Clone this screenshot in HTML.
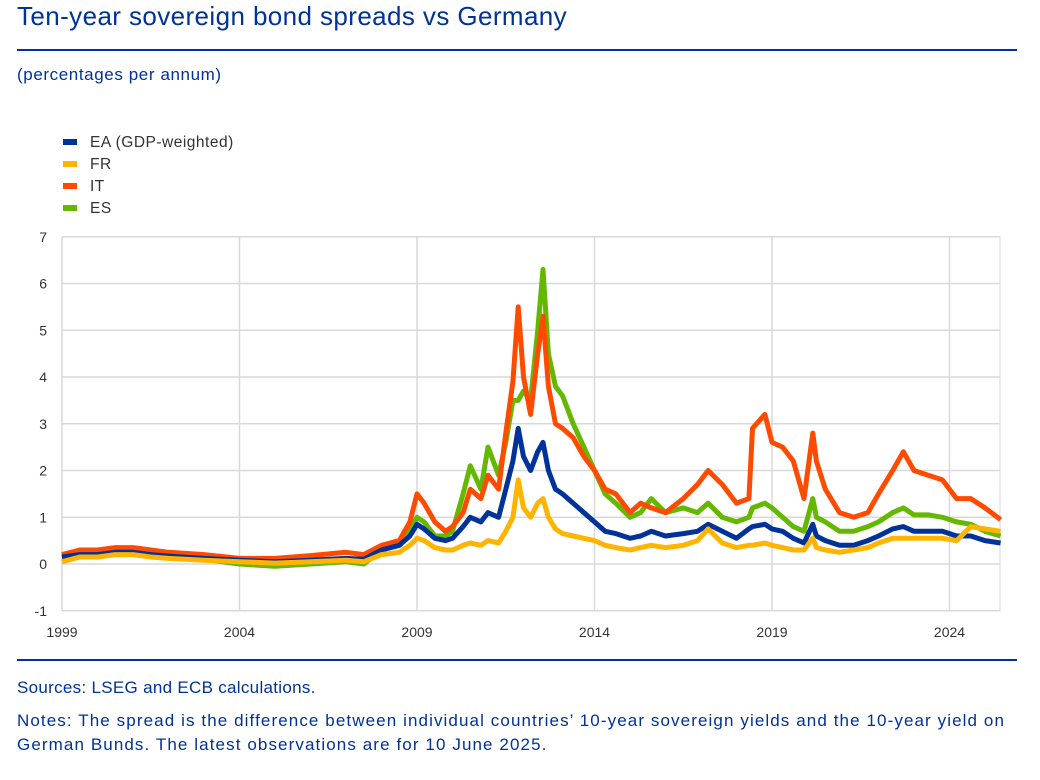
<!DOCTYPE html>
<html><head><meta charset="utf-8"><style>
body{margin:0;background:#fff;width:1040px;height:780px;overflow:hidden;font-family:"Liberation Sans",sans-serif;}
.t{position:absolute;color:#003299;white-space:nowrap;}
</style></head><body>
<div class="t" style="left:17px;top:1px;font-size:26px;letter-spacing:0.4px;">Ten-year sovereign bond spreads vs Germany</div>
<div style="position:absolute;left:17px;top:49px;width:1000px;height:2px;background:#003299"></div>
<div class="t" style="left:17px;top:65px;font-size:17px;letter-spacing:0.6px;">(percentages per annum)</div>
<svg width="1040" height="650" style="position:absolute;left:0;top:0" id="svg"></svg>
<div style="position:absolute;left:17px;top:659px;width:1000px;height:2px;background:#003299"></div>
<div class="t" style="left:17px;top:678px;font-size:17px;letter-spacing:0.3px;">Sources: LSEG and ECB calculations.</div>
<div class="t" style="left:17px;top:709px;font-size:17px;line-height:24px;letter-spacing:1.1px;">Notes: The spread is the difference between individual countries’ 10-year sovereign yields and the 10-year yield on<br>German Bunds. The latest observations are for 10 June 2025.</div>
<script>
const dates=[1999.0,1999.5,2000.0,2000.5,2001.0,2001.5,2002.0,2003,2004,2005,2006,2007,2007.5,2008,2008.5,2008.8,2009.0,2009.2,2009.5,2009.8,2010.0,2010.3,2010.5,2010.8,2011.0,2011.3,2011.5,2011.7,2011.85,2012.0,2012.2,2012.4,2012.55,2012.7,2012.9,2013.1,2013.4,2013.7,2014.0,2014.3,2014.6,2015.0,2015.3,2015.6,2016.0,2016.5,2016.9,2017.2,2017.6,2018.0,2018.35,2018.45,2018.8,2019.0,2019.3,2019.6,2019.9,2020.15,2020.25,2020.5,2020.9,2021.3,2021.7,2022.0,2022.4,2022.7,2023.0,2023.4,2023.8,2024.2,2024.6,2025.0,2025.44];
const itValues=[0.2,0.3,0.3,0.35,0.35,0.3,0.25,0.2,0.12,0.12,0.18,0.25,0.2,0.4,0.5,0.9,1.5,1.3,0.9,0.7,0.8,1.1,1.6,1.4,1.9,1.6,2.8,3.9,5.5,4.0,3.2,4.5,5.3,3.8,3.0,2.9,2.7,2.3,2.0,1.6,1.5,1.1,1.3,1.2,1.1,1.4,1.7,2.0,1.7,1.3,1.4,2.9,3.2,2.6,2.5,2.2,1.4,2.8,2.2,1.6,1.1,1.0,1.1,1.5,2.0,2.4,2.0,1.9,1.8,1.4,1.4,1.2,0.95];
const esValues=[0.15,0.25,0.25,0.3,0.3,0.25,0.2,0.1,0.0,-0.05,0.0,0.05,0.0,0.3,0.4,0.7,1.0,0.9,0.6,0.6,0.7,1.5,2.1,1.6,2.5,1.9,2.6,3.5,3.5,3.7,3.5,5.0,6.3,4.5,3.8,3.6,3.0,2.5,2.0,1.5,1.3,1.0,1.1,1.4,1.1,1.2,1.1,1.3,1.0,0.9,1.0,1.2,1.3,1.2,1.0,0.8,0.7,1.4,1.0,0.9,0.7,0.7,0.8,0.9,1.1,1.2,1.05,1.05,1.0,0.9,0.85,0.7,0.6];
const eaValues=[0.15,0.2,0.2,0.25,0.25,0.2,0.17,0.12,0.08,0.05,0.08,0.12,0.1,0.3,0.4,0.6,0.85,0.75,0.55,0.5,0.55,0.8,1.0,0.9,1.1,1.0,1.6,2.2,2.9,2.3,2.0,2.4,2.6,2.0,1.6,1.5,1.3,1.1,0.9,0.7,0.65,0.55,0.6,0.7,0.6,0.65,0.7,0.85,0.7,0.55,0.75,0.8,0.85,0.75,0.7,0.55,0.45,0.85,0.6,0.5,0.4,0.4,0.5,0.6,0.75,0.8,0.7,0.7,0.7,0.6,0.6,0.5,0.45];
const frValues=[0.05,0.15,0.15,0.2,0.2,0.15,0.12,0.08,0.05,0.02,0.05,0.08,0.05,0.2,0.25,0.4,0.55,0.5,0.35,0.3,0.3,0.4,0.45,0.4,0.5,0.45,0.7,1.0,1.8,1.2,1.0,1.3,1.4,1.0,0.75,0.65,0.6,0.55,0.5,0.4,0.35,0.3,0.35,0.4,0.35,0.4,0.5,0.75,0.45,0.35,0.4,0.4,0.45,0.4,0.35,0.3,0.3,0.55,0.35,0.3,0.25,0.3,0.35,0.45,0.55,0.55,0.55,0.55,0.55,0.5,0.8,0.75,0.7];
const yTicks=[-1,0,1,2,3,4,5,6,7];
const xTicks=[1999,2004,2009,2014,2019,2024];
const legendLabels=["EA (GDP-weighted)","FR","IT","ES"];
const colors=["#003299","#FFB400","#FF4B00","#65B800"];
const NS="http://www.w3.org/2000/svg",svg=document.getElementById('svg');
const X=v=>62+(v-1999)*35.5, Y=v=>564-v*46.75;
function mk(t,a){const e=document.createElementNS(NS,t);for(const k in a)e.setAttribute(k,a[k]);svg.appendChild(e);return e;}
mk('rect',{x:62,y:237,width:938,height:374,fill:'none',stroke:'#d9d9d9'});
yTicks.forEach(v=>{const l=mk('line',{x1:62,x2:1000,y1:Y(v),y2:Y(v),stroke:'#d9d9d9','stroke-width':1.5});

const t=mk('text',{x:47,y:Y(v)+5,'text-anchor':'end','font-size':14,fill:'#333'});t.textContent=v;
});
xTicks.forEach(v=>{const l=mk('line',{x1:X(v),x2:X(v),y1:237,y2:611,stroke:'#d9d9d9','stroke-width':1.5});

const t=mk('text',{x:X(v),y:637,'text-anchor':'middle','font-size':14,fill:'#333'});t.textContent=v;
});
const series=[[esValues,3,'series-es'],[itValues,2,'series-it'],[eaValues,0,'series-ea'],[frValues,1,'series-fr']];
series.forEach(([vals,ci,nm])=>{const d=dates.map((t,i)=>(i?'L':'M')+X(t).toFixed(1)+','+Y(vals[i]).toFixed(1)).join('');
const p=mk('path',{d:d,fill:'none',stroke:colors[ci],'stroke-width':5,'stroke-linejoin':'round'});
});
legendLabels.forEach((s,i)=>{const y=142+i*22;
const r=mk('rect',{x:63,y:y-3,width:14,height:6,fill:colors[i]});
const t=mk('text',{x:90,y:y+5,'font-size':15.5,fill:'#333','letter-spacing':0.5});t.textContent=s;
});
</script>
</body></html>
